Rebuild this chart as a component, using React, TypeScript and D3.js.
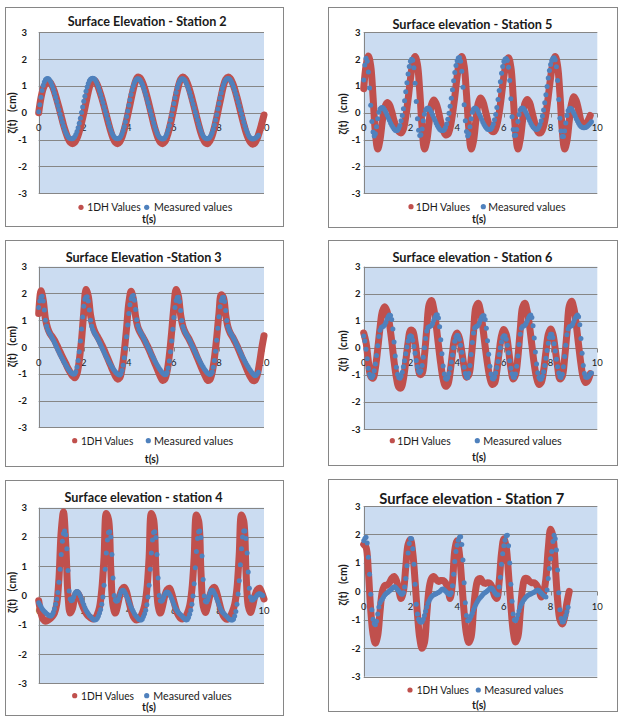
import React from 'react';
import * as d3 from 'd3';

const RED_DT = 0.1;
const BLUE_DT = 0.05;
const T_TICKS = [0, 2, 4, 6, 8, 10];
const Z_TICKS = [-3, -2, -1, 0, 1, 2, 3];
const SERIES_NAMES = ['1DH Values', 'Measured values'];
const X_LABEL = 't(s)';
const Y_LABEL = 'ζ(t)   (cm)';
const TITLES = [
  'Surface Elevation - Station 2',
  'Surface elevation - Station 5',
  'Surface Elevation -Station 3',
  'Surface elevation - Station 6',
  'Surface elevation - station 4',
  'Surface elevation - Station 7',
];

// ---- Station 2 ----
const st2Red = [0.0,0.55,0.9,1.08,1.15,1.13,1.0,0.78,0.5,0.2,
-0.12,-0.45,-0.72,-0.95,-1.1,-1.15,-1.1,-0.95,-0.7,-0.38,
-0.02,0.38,0.78,1.08,1.23,1.2,1.05,0.82,0.55,0.25,
-0.08,-0.4,-0.7,-0.95,-1.1,-1.15,-1.08,-0.9,-0.62,-0.28,
0.1,0.5,0.88,1.18,1.33,1.3,1.15,0.92,0.63,0.3,
-0.05,-0.4,-0.7,-0.95,-1.1,-1.15,-1.08,-0.88,-0.58,-0.22,
0.18,0.6,0.98,1.25,1.33,1.27,1.1,0.85,0.55,0.22,
-0.12,-0.45,-0.75,-0.98,-1.12,-1.15,-1.05,-0.85,-0.55,-0.18,
0.22,0.62,1.0,1.25,1.33,1.28,1.12,0.88,0.58,0.25,
-0.1,-0.42,-0.72,-0.95,-1.1,-1.17,-1.12,-0.95,-0.7,-0.4,
-0.08];
const st2Blue = [0.04,0.3,0.58,0.83,1.02,1.15,1.23,1.27,1.28,1.26,1.2,1.12,1.01,0.88,0.74,0.59,0.43,0.27,0.11,-0.05,
-0.2,-0.35,-0.49,-0.62,-0.73,-0.82,-0.89,-0.94,-0.96,-0.97,-0.97,-0.94,-0.89,-0.81,-0.7,-0.56,-0.39,-0.2,0.01,0.22,
0.43,0.62,0.8,0.96,1.09,1.19,1.25,1.28,1.29,1.28,1.24,1.17,1.07,0.95,0.82,0.68,0.53,0.38,0.23,0.08,
-0.07,-0.22,-0.37,-0.51,-0.64,-0.75,-0.84,-0.9,-0.94,-0.96,-0.97,-0.96,-0.93,-0.87,-0.78,-0.66,-0.51,-0.33,-0.14,0.07,
0.28,0.49,0.68,0.86,1.01,1.13,1.21,1.26,1.27,1.26,1.22,1.15,1.06,0.95,0.82,0.68,0.53,0.38,0.23,0.08,
-0.07,-0.22,-0.37,-0.51,-0.64,-0.75,-0.84,-0.9,-0.94,-0.97,-0.98,-0.97,-0.93,-0.86,-0.76,-0.63,-0.47,-0.28,-0.08,0.13,
0.35,0.56,0.76,0.93,1.07,1.17,1.24,1.27,1.27,1.24,1.19,1.11,1.01,0.9,0.77,0.63,0.48,0.33,0.18,0.03,
-0.12,-0.27,-0.42,-0.55,-0.67,-0.78,-0.86,-0.92,-0.95,-0.97,-0.97,-0.95,-0.91,-0.84,-0.74,-0.61,-0.45,-0.27,-0.07,0.14,
0.35,0.55,0.74,0.91,1.05,1.16,1.23,1.27,1.28,1.27,1.23,1.16,1.07,0.96,0.84,0.7,0.56,0.41,0.26,0.11,
-0.04,-0.19,-0.34,-0.48,-0.61,-0.72,-0.82,-0.89,-0.94,-0.97,-0.98,-0.97,-0.95,-0.92,-0.88,-0.84];

// ---- Station 5 ----
const st5Red = [0.9,1.75,2.12,1.75,0.6,-0.75,-1.35,-1.0,-0.3,0.2,
0.38,0.3,0.05,-0.3,-0.55,-0.7,-0.75,-0.6,-0.15,0.5,
1.25,1.85,2.1,1.8,0.8,-0.55,-1.35,-1.05,-0.35,0.3,
0.48,0.35,0.05,-0.35,-0.65,-0.82,-0.8,-0.55,-0.05,0.6,
1.35,1.9,2.1,1.75,0.7,-0.6,-1.35,-1.05,-0.3,0.35,
0.55,0.42,0.1,-0.25,-0.55,-0.7,-0.68,-0.45,0.0,0.65,
1.35,1.85,2.05,1.7,0.6,-0.7,-1.35,-1.0,-0.3,0.35,
0.5,0.38,0.05,-0.3,-0.6,-0.75,-0.72,-0.5,-0.05,0.6,
1.3,1.85,2.1,1.75,0.7,-0.65,-1.35,-1.05,-0.3,0.35,
0.6,0.45,0.1,-0.3,-0.5,-0.45,-0.3,-0.1];
const st5Blue = [1.22,1.78,2.03,1.92,1.52,0.92,0.28,-0.32,-0.72,-0.86,-0.78,-0.52,-0.22,0.02,0.14,0.19,0.2,0.17,0.1,0.02,
-0.08,-0.18,-0.28,-0.38,-0.46,-0.54,-0.6,-0.65,-0.67,-0.65,-0.58,-0.47,-0.3,-0.1,0.15,0.45,0.78,1.12,1.45,1.73,
1.92,2.0,1.96,1.68,1.1,0.42,-0.22,-0.65,-0.85,-0.82,-0.6,-0.3,-0.05,0.1,0.16,0.18,0.16,0.1,0.02,-0.08,
-0.18,-0.28,-0.38,-0.47,-0.55,-0.61,-0.65,-0.66,-0.66,-0.63,-0.55,-0.42,-0.24,-0.02,0.24,0.54,0.86,1.19,1.5,1.76,
1.94,2.04,2.06,1.92,1.55,0.95,0.3,-0.3,-0.7,-0.86,-0.78,-0.52,-0.22,0.02,0.14,0.18,0.17,0.12,0.04,-0.05,
-0.15,-0.25,-0.35,-0.44,-0.51,-0.57,-0.61,-0.62,-0.62,-0.6,-0.53,-0.42,-0.26,-0.06,0.2,0.5,0.83,1.16,1.47,1.73,
1.91,2.0,2.02,1.95,1.7,1.2,0.52,-0.15,-0.62,-0.85,-0.84,-0.62,-0.32,-0.06,0.1,0.17,0.18,0.15,0.09,0.01,
-0.09,-0.19,-0.29,-0.38,-0.46,-0.53,-0.58,-0.61,-0.62,-0.6,-0.54,-0.44,-0.3,-0.12,0.1,0.37,0.67,0.98,1.3,1.58,
1.8,1.95,2.03,2.05,1.98,1.72,1.2,0.5,-0.2,-0.68,-0.88,-0.88,-0.68,-0.38,-0.1,0.08,0.15,0.17,0.14,0.07,
-0.02,-0.12,-0.22,-0.31,-0.39,-0.46,-0.51,-0.54,-0.56,-0.56,-0.55,-0.52,-0.48,-0.44,-0.39,-0.33];

// ---- Station 3 ----
const st3Red = [1.25,2.1,1.75,1.05,0.7,0.5,0.38,0.25,0.08,-0.1,
-0.28,-0.45,-0.62,-0.8,-0.95,-1.08,-1.15,-1.0,-0.5,0.25,
1.3,2.15,1.9,1.2,0.8,0.55,0.4,0.25,0.08,-0.1,
-0.3,-0.5,-0.7,-0.9,-1.08,-1.2,-1.15,-0.8,-0.15,0.7,
1.65,2.08,1.8,1.15,0.75,0.55,0.4,0.25,0.08,-0.1,
-0.3,-0.5,-0.7,-0.9,-1.1,-1.25,-1.2,-0.9,-0.3,0.55,
1.5,2.15,1.9,1.2,0.78,0.55,0.4,0.25,0.07,-0.12,
-0.32,-0.52,-0.72,-0.92,-1.1,-1.25,-1.22,-0.95,-0.4,0.35,
1.25,1.95,1.85,1.2,0.75,0.52,0.38,0.22,0.05,-0.15,
-0.35,-0.55,-0.75,-0.95,-1.12,-1.25,-1.25,-1.05,-0.6,-0.05,
0.42];
const st3Blue = [1.48,1.72,1.86,1.9,1.72,1.38,1.0,0.78,0.65,0.56,0.49,0.42,0.34,0.26,0.17,0.08,-0.01,-0.1,-0.19,-0.28,
-0.36,-0.44,-0.52,-0.6,-0.67,-0.74,-0.81,-0.87,-0.92,-0.97,-1.0,-1.02,-1.0,-0.92,-0.75,-0.5,-0.18,0.22,0.67,1.12,
1.52,1.78,1.86,1.88,1.72,1.38,1.0,0.78,0.65,0.56,0.49,0.42,0.34,0.26,0.17,0.08,-0.01,-0.1,-0.19,-0.28,
-0.36,-0.44,-0.52,-0.6,-0.67,-0.74,-0.81,-0.87,-0.92,-0.97,-1.01,-1.04,-1.05,-1.0,-0.88,-0.68,-0.4,-0.05,0.38,0.82,
1.25,1.58,1.8,1.9,1.92,1.75,1.4,1.02,0.8,0.66,0.57,0.5,0.43,0.35,0.27,0.18,0.09,0.0,-0.09,-0.18,
-0.27,-0.35,-0.43,-0.51,-0.59,-0.66,-0.73,-0.8,-0.86,-0.92,-0.97,-1.01,-1.04,-1.03,-0.95,-0.78,-0.52,-0.18,0.22,0.66,
1.1,1.48,1.74,1.85,1.86,1.7,1.36,0.99,0.77,0.64,0.55,0.48,0.41,0.33,0.25,0.16,0.07,-0.02,-0.11,-0.2,
-0.29,-0.37,-0.45,-0.53,-0.61,-0.68,-0.75,-0.82,-0.88,-0.93,-0.98,-1.01,-1.03,-1.01,-0.93,-0.76,-0.5,-0.16,0.25,0.7,
1.13,1.5,1.74,1.84,1.86,1.7,1.36,0.99,0.77,0.64,0.55,0.48,0.41,0.33,0.25,0.16,0.07,-0.02,-0.11,-0.2,
-0.29,-0.37,-0.45,-0.53,-0.61,-0.68,-0.75,-0.82,-0.88,-0.94,-0.99,-1.04,-1.07,-1.06,-1.0,-0.94];

// ---- Station 6 ----
const st6Red = [0.55,0.2,-0.5,-1.05,-1.12,-0.75,-0.05,0.75,1.35,1.52,
1.35,0.9,0.25,-0.5,-1.1,-1.45,-1.48,-1.15,-0.5,0.2,
0.65,0.62,0.2,-0.45,-0.98,-0.95,-0.3,0.7,1.6,1.75,
1.45,0.85,0.1,-0.6,-1.15,-1.42,-1.35,-0.9,-0.2,0.4,
0.55,0.35,-0.15,-0.7,-1.08,-1.0,-0.4,0.55,1.5,1.65,
1.35,0.75,0.05,-0.6,-1.1,-1.35,-1.3,-0.85,-0.15,0.45,
0.68,0.5,-0.05,-0.75,-1.15,-1.0,-0.35,0.65,1.5,1.65,
1.35,0.8,0.1,-0.6,-1.1,-1.35,-1.28,-0.85,-0.15,0.5,
0.7,0.5,-0.05,-0.7,-1.15,-1.05,-0.4,0.55,1.55,1.72,
1.45,0.85,0.1,-0.6,-1.1,-1.28,-1.2,-0.95];
const st6Blue = [0.44,0.25,-0.05,-0.4,-0.75,-0.98,-1.08,-1.1,-1.02,-0.85,-0.6,-0.28,0.08,0.42,0.65,0.75,0.78,0.8,0.85,0.95,
1.07,1.16,1.21,1.2,1.05,0.7,0.22,-0.3,-0.72,-0.98,-1.1,-1.12,-1.05,-0.9,-0.7,-0.48,-0.22,0.03,0.25,0.4,
0.45,0.42,0.28,0.05,-0.2,-0.47,-0.7,-0.86,-0.91,-0.85,-0.65,-0.35,0.0,0.35,0.62,0.75,0.78,0.8,0.83,0.9,
1.02,1.13,1.21,1.22,1.1,0.78,0.3,-0.22,-0.67,-0.97,-1.12,-1.16,-1.1,-0.95,-0.75,-0.52,-0.26,0.0,0.24,0.4,
0.47,0.45,0.32,0.1,-0.16,-0.45,-0.72,-0.95,-1.08,-1.1,-0.95,-0.65,-0.25,0.2,0.55,0.73,0.78,0.8,0.84,0.92,
1.03,1.13,1.19,1.19,1.05,0.72,0.26,-0.24,-0.68,-0.97,-1.12,-1.15,-1.08,-0.93,-0.73,-0.5,-0.25,0.0,0.22,0.38,
0.45,0.44,0.32,0.1,-0.18,-0.48,-0.75,-0.96,-1.08,-1.1,-0.97,-0.68,-0.3,0.12,0.5,0.72,0.79,0.81,0.84,0.9,
1.0,1.1,1.18,1.21,1.12,0.82,0.36,-0.15,-0.6,-0.92,-1.1,-1.16,-1.15,-1.05,-0.88,-0.65,-0.38,-0.1,0.17,0.38,
0.5,0.5,0.38,0.15,-0.12,-0.42,-0.7,-0.93,-1.07,-1.1,-0.98,-0.7,-0.32,0.1,0.48,0.7,0.78,0.8,0.82,0.88,
0.98,1.09,1.17,1.21,1.15,0.85,0.35,-0.2,-0.65,-0.95,-1.08,-1.1,-1.07,-1.02,-0.96,-0.93];

// ---- Station 4 ----
const st4Red = [-0.18,-0.6,-0.82,-0.88,-0.85,-0.8,-0.72,-0.6,-0.3,0.6,
2.2,2.85,1.8,0.0,-0.6,-0.45,-0.05,0.1,0.0,-0.25,
-0.45,-0.6,-0.7,-0.76,-0.8,-0.78,-0.65,-0.4,0.2,1.3,
2.8,2.6,0.9,-0.35,-0.6,-0.35,0.0,0.22,0.28,0.12,
-0.2,-0.5,-0.72,-0.83,-0.82,-0.75,-0.6,-0.35,0.2,1.3,
2.8,2.6,0.9,-0.35,-0.6,-0.35,0.0,0.2,0.25,0.08,
-0.2,-0.48,-0.68,-0.78,-0.8,-0.75,-0.6,-0.35,0.2,1.3,
2.75,2.55,0.85,-0.35,-0.58,-0.35,0.0,0.22,0.28,0.1,
-0.2,-0.5,-0.7,-0.8,-0.8,-0.72,-0.55,-0.3,0.25,1.4,
2.75,2.55,0.85,-0.35,-0.58,-0.35,0.0,0.2,0.25,0.1,
-0.12];
const st4Blue = [-0.25,-0.32,-0.38,-0.45,-0.5,-0.55,-0.58,-0.62,-0.65,-0.68,-0.7,-0.7,-0.66,-0.58,-0.45,-0.3,-0.12,0.1,0.45,0.9,
1.4,1.85,2.12,2.2,2.08,1.6,0.85,0.15,-0.12,-0.18,-0.15,-0.05,0.06,0.12,0.14,0.12,0.06,-0.02,-0.12,-0.22,
-0.32,-0.42,-0.5,-0.56,-0.62,-0.68,-0.72,-0.76,-0.8,-0.83,-0.84,-0.82,-0.78,-0.7,-0.6,-0.48,-0.3,-0.05,0.35,0.9,
1.45,1.9,2.15,2.18,2.0,1.4,0.6,0.0,-0.15,-0.2,-0.18,-0.1,0.02,0.12,0.17,0.18,0.14,0.07,-0.02,-0.1,
-0.2,-0.3,-0.4,-0.48,-0.55,-0.62,-0.68,-0.73,-0.78,-0.82,-0.84,-0.84,-0.8,-0.72,-0.62,-0.5,-0.32,-0.05,0.35,0.9,
1.45,1.9,2.15,2.18,1.98,1.4,0.6,0.0,-0.18,-0.2,-0.15,-0.06,0.04,0.1,0.12,0.1,0.05,-0.02,-0.1,-0.2,
-0.3,-0.4,-0.47,-0.53,-0.58,-0.62,-0.66,-0.7,-0.74,-0.78,-0.82,-0.84,-0.82,-0.75,-0.64,-0.5,-0.3,-0.02,0.4,0.95,
1.5,1.95,2.18,2.2,1.98,1.35,0.55,-0.02,-0.2,-0.22,-0.15,-0.04,0.08,0.16,0.18,0.15,0.08,0.0,-0.1,-0.2,
-0.32,-0.42,-0.5,-0.56,-0.6,-0.64,-0.68,-0.72,-0.76,-0.8,-0.83,-0.84,-0.84,-0.8,-0.7,-0.55,-0.3,0.05,0.5,1.05,
1.6,2.0,2.2,2.2,1.95,1.45,0.8,0.25,-0.05,-0.15,-0.15,-0.12,-0.08,-0.03,0.02,0.05,0.06,0.05,0.02,0.0];

// ---- Station 7 ----
const st7Red = [1.65,1.55,0.7,-0.65,-1.5,-1.82,-1.55,-0.7,0.0,0.2,
0.22,0.3,0.45,0.52,0.38,0.05,-0.25,0.0,0.85,1.65,
1.82,1.35,0.35,-0.8,-1.65,-2.0,-1.8,-0.8,0.1,0.45,
0.52,0.42,0.35,0.38,0.38,0.3,0.12,-0.25,0.3,1.45,
1.78,1.3,0.3,-0.75,-1.5,-1.8,-1.6,-0.65,0.1,0.42,
0.45,0.32,0.28,0.3,0.28,0.15,-0.15,-0.25,0.35,1.35,
1.85,1.55,0.6,-0.5,-1.4,-1.78,-1.6,-0.75,0.1,0.45,
0.45,0.35,0.3,0.3,0.22,0.05,-0.2,-0.05,0.45,1.5,
2.18,1.95,0.9,-0.3,-1.0,-1.15,-0.9,-0.4,0.0];
const st7Blue = [1.78,1.86,1.9,1.7,1.2,0.6,-0.1,-0.65,-0.98,-1.13,-1.17,-1.05,-0.8,-0.55,-0.4,-0.32,-0.27,-0.2,-0.13,-0.08,
-0.05,-0.02,0.02,0.05,0.09,0.13,0.16,0.15,0.11,0.06,0.01,-0.04,-0.09,-0.1,-0.05,0.15,0.45,0.9,1.35,1.68,
1.86,1.85,1.5,0.95,0.25,-0.45,-0.8,-0.98,-1.06,-1.09,-1.07,-0.98,-0.85,-0.7,-0.55,-0.42,-0.33,-0.25,-0.19,-0.15,
-0.12,-0.1,-0.08,-0.06,-0.04,-0.01,0.03,0.07,0.08,0.05,0.01,-0.03,-0.07,-0.1,-0.12,-0.05,0.2,0.6,1.05,1.4,
1.62,1.8,1.9,1.92,1.65,1.1,0.3,-0.4,-0.85,-1.03,-1.02,-0.95,-0.87,-0.77,-0.65,-0.55,-0.46,-0.38,-0.31,-0.25,
-0.21,-0.16,-0.11,-0.07,-0.04,-0.01,0.02,0.06,0.1,0.12,0.1,0.04,-0.03,-0.08,-0.13,-0.12,0.15,0.5,0.95,1.32,
1.6,1.8,1.95,1.97,1.6,1.0,0.25,-0.35,-0.8,-1.0,-1.03,-0.95,-0.82,-0.68,-0.55,-0.45,-0.37,-0.3,-0.25,-0.2,
-0.16,-0.13,-0.11,-0.09,-0.07,-0.05,-0.03,0.0,0.03,0.05,0.03,-0.02,-0.06,-0.1,-0.14,-0.18,-0.2,0.05,0.45,0.8,
1.15,1.4,1.75,1.97,1.85,1.45,0.75,-0.05,-0.65,-0.95,-1.08,-1.07,-0.95,-0.85,-0.72,-0.56];

const SERIES = [
  [st2Red, st2Blue],
  [st5Red, st5Blue],
  [st3Red, st3Blue],
  [st6Red, st6Blue],
  [st4Red, st4Blue],
  [st7Red, st7Blue],
];

// ---- layout (pixels) ----
const LAYOUT = [
  { box: [5, 7, 283, 226], x0: 38.7, x1: 264, yTop: 32.3, yBot: 193.3, yTickX: 27, title: [147.2, 21, 159, 12.5], yLab: [11.7, 113], leg: [207.3, 81, 87.3, 53.4, 146.7, 154, 78.3], ts: [149, 219.3] },
  { box: [328, 7, 617, 227], x0: 363.7, x1: 597.3, yTop: 32.3, yBot: 193.3, yTickX: 360.5, title: [472.5, 24, 160, 12.5], yLab: [343.3, 114], leg: [206.7, 411, 415.7, 54.3, 483.3, 488.3, 77.3], ts: [479, 219.3] },
  { box: [5, 240, 283, 466], x0: 38.7, x1: 264, yTop: 266.7, yBot: 427.3, yTickX: 27, title: [143.7, 257.7, 156, 12.5], yLab: [11.7, 346.7], leg: [440.7, 74.7, 81, 52.3, 148.3, 154, 79.3], ts: [151.7, 459] },
  { box: [328, 240, 617, 465], x0: 363.7, x1: 597.3, yTop: 266.7, yBot: 429, yTickX: 360.5, title: [472.5, 257.7, 160, 12.5], yLab: [343.3, 351], leg: [440.7, 392.3, 397.3, 53.4, 477.3, 483.3, 78.4], ts: [479, 456.7] },
  { box: [5, 480, 283, 715], x0: 38.7, x1: 264, yTop: 507.7, yBot: 683.3, yTickX: 27, title: [143.5, 497.7, 158, 12.5], yLab: [11.7, 592.5], leg: [695.7, 74.7, 81, 53, 146.7, 153.3, 78.4], ts: [149, 707.3] },
  { box: [328, 479, 617, 711], x0: 363.7, x1: 597.3, yTop: 506, yBot: 676.7, yTickX: 360.5, title: [471.8, 498.3, 185, 14.5], yLab: [343.3, 585], leg: [690, 410, 416.7, 52.3, 478.3, 484.3, 79], ts: [479, 705] },
];

const RED = '#C0504D';
const BLUE = '#4F81BD';
const PLOT_BG = '#CBDCF1';
const GRID = '#868686';
const FONT = "Lato, 'Open Sans', 'DejaVu Sans', sans-serif";

const snap = (v: number) => Math.round(v) + 0.5;

function Panel({ L, title, red, blue }: any) {
  const x = d3.scaleLinear().domain([0, 10]).range([L.x0, L.x1]);
  const y = d3.scaleLinear().domain([-3, 3]).range([L.yBot, L.yTop]);
  const redLine = d3
    .line<number>()
    .x((_, i) => x(i * RED_DT))
    .y((d) => y(d))
    .curve(d3.curveCatmullRom.alpha(0.5));
  const [bx0, by0, bx1, by1] = L.box;
  const [tx, ty, tw, tsz] = L.title;
  const [ly, rdx, rtx, rtw, bdx, btx, btw] = L.leg;
  const y0 = snap(y(0));
  return (
    <g>
      <rect x={bx0 + 0.5} y={by0 + 0.5} width={bx1 - bx0} height={by1 - by0} fill="#fff" stroke={GRID} strokeWidth={1} />
      <rect x={L.x0} y={L.yTop} width={L.x1 - L.x0} height={L.yBot - L.yTop} fill={PLOT_BG} />
      {Z_TICKS.map((v) => (
        <line key={v} x1={L.x0} x2={L.x1} y1={snap(y(v))} y2={snap(y(v))} stroke={GRID} strokeWidth={1} />
      ))}
      <line x1={snap(L.x0)} x2={snap(L.x0)} y1={L.yTop} y2={L.yBot} stroke={GRID} strokeWidth={1} />
      {T_TICKS.map((t) => (
        <line key={'tk' + t} x1={snap(x(t))} x2={snap(x(t))} y1={y0} y2={y0 + 4} stroke={GRID} strokeWidth={1} />
      ))}
      {Z_TICKS.map((v) => (
        <text key={'yl' + v} x={L.yTickX} y={y(v)} textAnchor="end" dominantBaseline="central" fontSize={9.5} fontWeight="bold" fill="#1a1a1a" fontFamily={FONT}>
          {v}
        </text>
      ))}
      {T_TICKS.map((t) => (
        <text key={'xl' + t} x={x(t)} y={y(0) + 15} textAnchor="middle" dominantBaseline="central" fontSize={9.5} fill="#1a1a1a" fontFamily={FONT}>
          {t}
        </text>
      ))}
      <path d={redLine(red) || ''} fill="none" stroke={RED} strokeWidth={7} strokeLinecap="round" strokeLinejoin="round" />
      {blue.map((v: number, i: number) => (
        <circle key={'b' + i} cx={x(i * BLUE_DT)} cy={y(v)} r={2.5} fill={BLUE} />
      ))}
      <text x={tx} y={ty} textAnchor="middle" dominantBaseline="central" fontSize={tsz} fontWeight="bold" fill="#1a1a1a" fontFamily={FONT} textLength={tw} lengthAdjust="spacingAndGlyphs">
        {title}
      </text>
      <text transform={`translate(${L.yLab[0]},${L.yLab[1]}) rotate(-90)`} textAnchor="middle" dominantBaseline="central" fontSize={10.5} fontWeight="bold" fill="#1a1a1a" fontFamily={FONT} style={{ whiteSpace: 'pre' }}>
        {Y_LABEL}
      </text>
      <circle cx={rdx} cy={ly} r={2.6} fill={RED} />
      <text x={rtx} y={ly} dominantBaseline="central" fontSize={10.5} fill="#1a1a1a" fontFamily={FONT} textLength={rtw} lengthAdjust="spacingAndGlyphs">
        {SERIES_NAMES[0]}
      </text>
      <circle cx={bdx} cy={ly} r={2.6} fill={BLUE} />
      <text x={btx} y={ly} dominantBaseline="central" fontSize={10.5} fill="#1a1a1a" fontFamily={FONT} textLength={btw} lengthAdjust="spacingAndGlyphs">
        {SERIES_NAMES[1]}
      </text>
      <text x={L.ts[0]} y={L.ts[1]} textAnchor="middle" dominantBaseline="central" fontSize={10.5} fontWeight="bold" fill="#1a1a1a" fontFamily={FONT}>
        {X_LABEL}
      </text>
    </g>
  );
}

export default function App() {
  return (
    <svg width={625} height={722} style={{ position: 'absolute', left: 0, top: 0, background: '#fff' }}>
      {LAYOUT.map((L, i) => (
        <Panel key={i} L={L} title={TITLES[i]} red={SERIES[i][0]} blue={SERIES[i][1]} />
      ))}
    </svg>
  );
}
